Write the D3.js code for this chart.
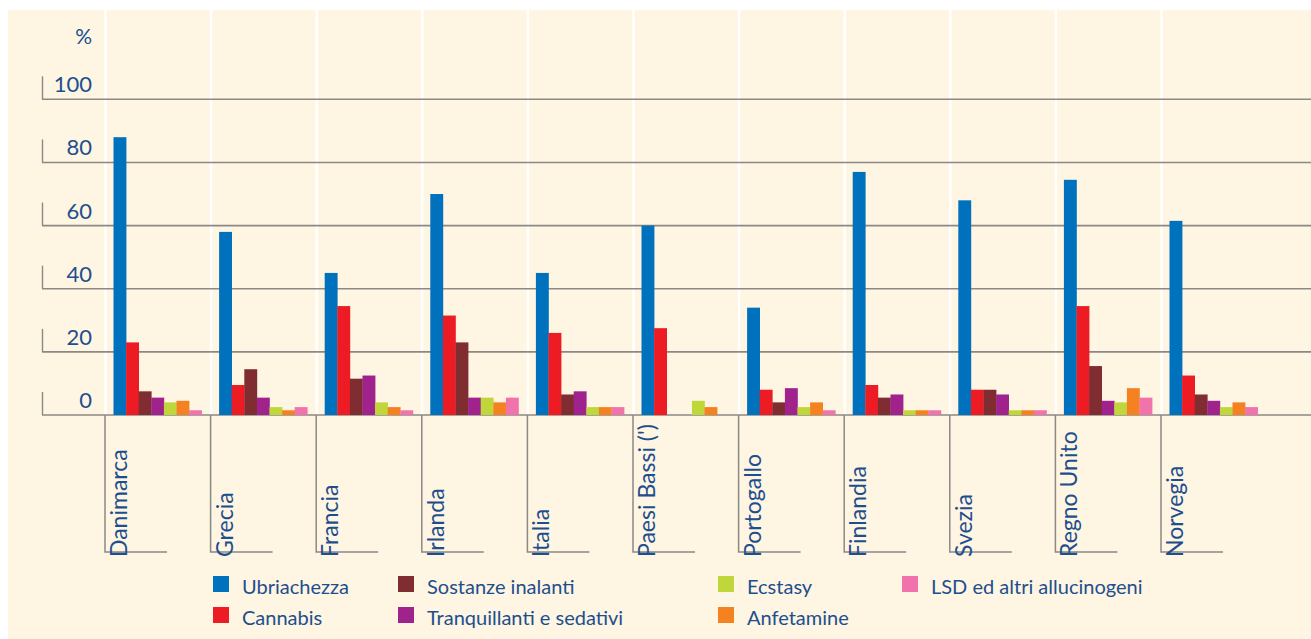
<!DOCTYPE html>
<html>
  <head>
    <meta charset="utf-8">
    <style>
      body { margin: 0; background: #fff; }
      text { font-family: Lato, "Open Sans", sans-serif; fill: #1d4f8e; }
    </style>
  </head>
  <body>
    <div id="my_dataviz"></div>
  </body>
</html>

<script src="https://d3js.org/d3.v7.min.js"></script>

<script>
// data
var countries = ["Danimarca", "Grecia", "Francia", "Irlanda", "Italia", "Paesi Bassi (')",
                 "Portogallo", "Finlandia", "Svezia", "Regno Unito", "Norvegia"];
var seriesNames = ["Ubriachezza", "Cannabis", "Sostanze inalanti", "Tranquillanti e sedativi",
                   "Ecstasy", "Anfetamine", "LSD ed altri allucinogeni"];
var seriesColors = ["#0071bc", "#ed1c24", "#7f2d30", "#a0228d", "#bfd73b", "#f58220", "#f173ac"];

var ubriachezza   = [88, 58, 45, 70, 45, 60, 34, 77, 68, 74.5, 61.5];
var cannabis      = [23, 9.5, 34.5, 31.5, 26, 27.5, 8, 9.5, 8, 34.5, 12.5];
var inalanti      = [7.5, 14.5, 11.5, 23, 6.5, null, 4, 5.5, 8, 15.5, 6.5];
var tranquillanti = [5.5, 5.5, 12.5, 5.5, 7.5, null, 8.5, 6.5, 6.5, 4.5, 4.5];
var ecstasy       = [4, 2.5, 4, 5.5, 2.5, 4.5, 2.5, 1.5, 1.5, 4, 2.5];
var anfetamine    = [4.5, 1.5, 2.5, 4, 2.5, 2.5, 4, 1.5, 1.5, 8.5, 4];
var lsd           = [1.5, 2.5, 1.5, 5.5, 2.5, null, 1.5, 1.5, 1.5, 5.5, 2.5];
var yTicks = [0, 20, 40, 60, 80, 100];

var allSeries = [ubriachezza, cannabis, inalanti, tranquillanti, ecstasy, anfetamine, lsd];

var W = 1311, H = 639;
var svg = d3.select("#my_dataviz")
  .append("svg")
    .attr("width", W)
    .attr("height", H);

// cream panel
svg.append("rect")
  .attr("x", 8).attr("y", 10)
  .attr("width", W - 8).attr("height", H - 10)
  .attr("fill", "#fef5e2");

var x = d3.scaleBand()
  .domain(countries)
  .range([105.5, 105.5 + 11 * 105.6])
  .padding(0);

var xs = d3.scaleBand()
  .domain(seriesNames)
  .range([8, 8 + 7 * 12.6])
  .padding(0);

var y = d3.scaleLinear()
  .domain([0, 100])
  .range([415, 99.3]);

// white separators in the plot area
svg.selectAll(".sep")
  .data(countries)
  .enter()
  .append("line")
    .attr("x1", function(d) { return x(d); })
    .attr("x2", function(d) { return x(d); })
    .attr("y1", 10)
    .attr("y2", y(0))
    .attr("stroke", "#ffffff")
    .attr("stroke-width", 2.5);

// gridlines + small left ticks
var grid = svg.selectAll(".grid")
  .data(yTicks)
  .enter()
  .append("g");
grid.append("line")
  .attr("x1", 42).attr("x2", W)
  .attr("y1", function(d) { return y(d); })
  .attr("y2", function(d) { return y(d); })
  .attr("stroke", "#8b8986")
  .attr("stroke-width", 1.6);
grid.append("line")
  .attr("x1", 42.5).attr("x2", 42.5)
  .attr("y1", function(d) { return y(d) - 23; })
  .attr("y2", function(d) { return y(d); })
  .attr("stroke", "#8b8986")
  .attr("stroke-width", 1.4);
grid.append("text")
  .attr("x", 92)
  .attr("y", function(d) { return y(d) - 7; })
  .attr("text-anchor", "end")
  .style("font-size", "22px")
  .text(function(d) { return d; });

svg.append("text")
  .attr("x", 92).attr("y", 44)
  .attr("text-anchor", "end")
  .style("font-size", "21px")
  .text("%");

// bars
var rows = [];
countries.forEach(function(c, i) {
  seriesNames.forEach(function(s, j) {
    var v = allSeries[j][i];
    if (v != null) rows.push({country: c, series: s, value: v, color: seriesColors[j]});
  });
});

svg.selectAll("myRect")
  .data(rows)
  .enter()
  .append("rect")
    .attr("x", function(d) { return x(d.country) + xs(d.series); })
    .attr("y", function(d) { return y(d.value); })
    .attr("width", xs.bandwidth() + 0.3)
    .attr("height", function(d) { return y(0) - y(d.value); })
    .attr("fill", function(d) { return d.color; });

// category brackets below the baseline
var cat = svg.selectAll(".cat")
  .data(countries)
  .enter()
  .append("g");
cat.append("path")
  .attr("d", function(d) {
    var x0 = x(d) - 0.5;
    return "M" + x0 + "," + y(0) + "V552H" + (x0 + 62);
  })
  .attr("fill", "none")
  .attr("stroke", "#8b8986")
  .attr("stroke-width", 1.5);
cat.append("text")
  .attr("transform", function(d) { return "translate(" + (x(d) + 21.5) + ",557)rotate(-90)"; })
  .style("font-size", "23px")
  .text(function(d) { return d; });

// legend
var legendPos = [[213, 576], [213, 607], [398, 576], [398, 607], [718, 576], [718, 607], [902, 576]];
var leg = svg.selectAll(".leg")
  .data(seriesNames)
  .enter()
  .append("g")
    .attr("transform", function(d, i) { return "translate(" + legendPos[i][0] + "," + legendPos[i][1] + ")"; });
leg.append("rect")
  .attr("width", 16).attr("height", 16)
  .attr("fill", function(d, i) { return seriesColors[i]; });
leg.append("text")
  .attr("x", 29).attr("y", 18)
  .style("font-size", "20px")
  .text(function(d) { return d; });
</script>
